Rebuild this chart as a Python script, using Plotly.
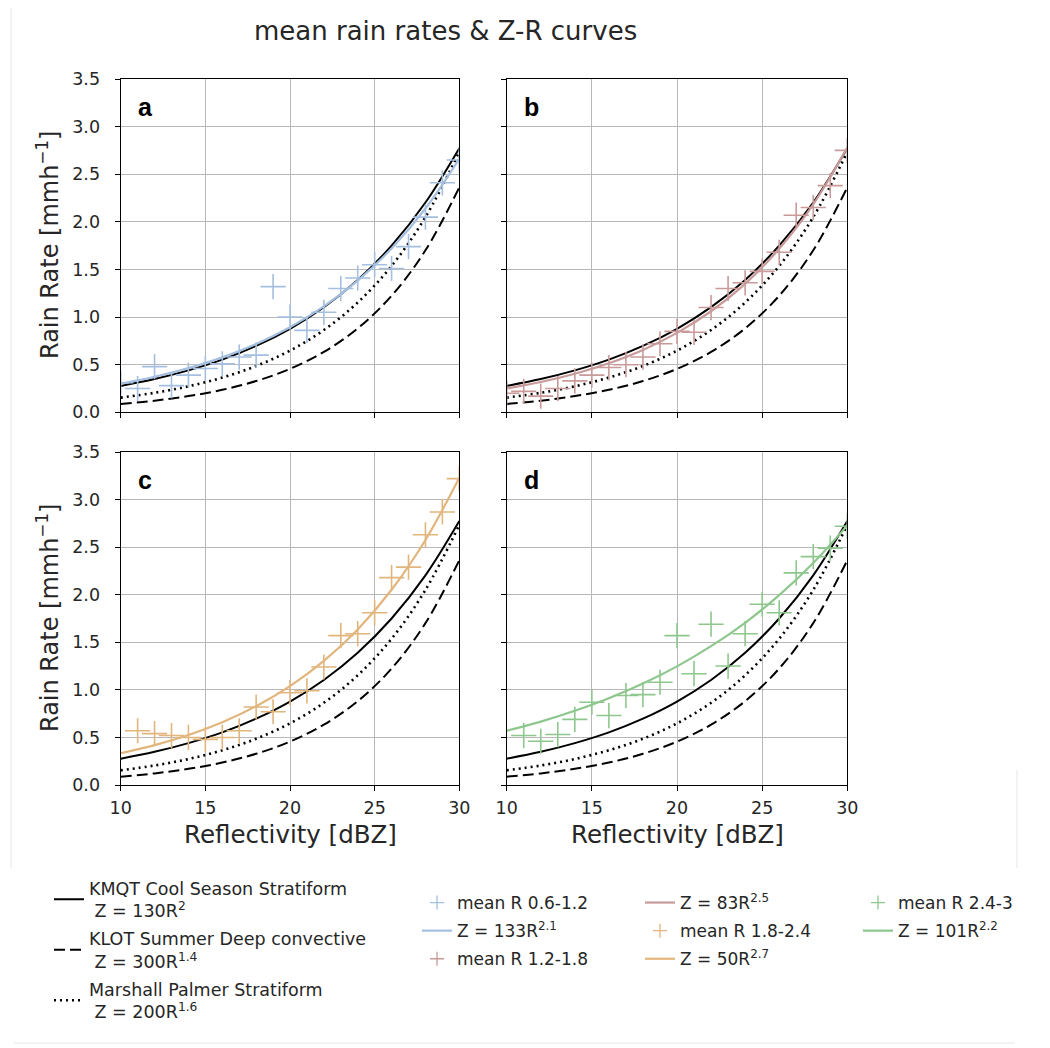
import plotly.graph_objects as go

# ---------------- data ----------------
dbz_curve = [10, 12, 14, 16, 18, 20, 22, 24, 26, 28, 30]
r_kmqt = [0.277, 0.349, 0.440, 0.553, 0.697, 0.877, 1.104, 1.390, 1.750, 2.203, 2.774]
r_klot = [0.088, 0.122, 0.170, 0.236, 0.328, 0.456, 0.634, 0.881, 1.224, 1.701, 2.362]
r_mp = [0.154, 0.205, 0.273, 0.365, 0.486, 0.648, 0.864, 1.153, 1.537, 2.050, 2.734]

fit_a = [0.300, 0.373, 0.464, 0.577, 0.718, 0.894, 1.112, 1.383, 1.720, 2.140, 2.662]
fit_b = [0.250, 0.318, 0.405, 0.515, 0.655, 0.834, 1.061, 1.349, 1.717, 2.184, 2.780]
fit_c = [0.334, 0.419, 0.526, 0.660, 0.828, 1.039, 1.304, 1.635, 2.052, 2.575, 3.230]
fit_d = [0.570, 0.666, 0.780, 0.912, 1.066, 1.247, 1.459, 1.705, 1.995, 2.333, 2.728]

dbz_ab = [10, 11, 12, 13, 14, 15, 16, 17, 18, 19, 20, 21, 22, 23, 24, 25, 26, 27, 28, 29, 30]
dbz_cd = [11, 12, 13, 14, 15, 16, 17, 18, 19, 20, 21, 22, 23, 24, 25, 26, 27, 28, 29, 30]
mean_a = [0.31, 0.25, 0.48, 0.28, 0.39, 0.46, 0.51, 0.58, 0.60, 1.32, 1.00, 0.86, 1.05, 1.30,
          1.41, 1.55, 1.51, 1.74, 2.05, 2.41, 2.65]
mean_b = [0.20, 0.22, 0.17, 0.25, 0.33, 0.39, 0.47, 0.50, 0.58, 0.72, 0.85, 0.84, 1.10, 1.30,
          1.36, 1.48, 1.68, 2.07, 2.15, 2.38, 2.75]
mean_c = [0.57, 0.54, 0.52, 0.50, 0.48, 0.50, 0.57, 0.82, 0.77, 0.97, 0.99, 1.24, 1.57, 1.59,
          1.81, 2.18, 2.29, 2.63, 2.87, 3.22]
mean_d = [0.52, 0.46, 0.53, 0.69, 0.87, 0.73, 0.94, 0.95, 1.08, 1.57, 1.17, 1.69, 1.25, 1.59,
          1.90, 1.81, 2.23, 2.40, 2.49, 2.72]

panel_letters = ["a", "b", "c", "d"]
mean_labels = ["mean R 0.6-1.2", "mean R 1.2-1.8", "mean R 1.8-2.4", "mean R 2.4-3"]
fit_labels = ["Z = 133R<sup>2.1</sup>", "Z = 83R<sup>2.5</sup>", "Z = 50R<sup>2.7</sup>",
              "Z = 101R<sup>2.2</sup>"]
ref_labels = ["KMQT Cool Season Stratiform<br> Z = 130R<sup>2</sup>",
              "KLOT Summer Deep convective<br> Z = 300R<sup>1.4</sup>",
              "Marshall Palmer Stratiform<br> Z = 200R<sup>1.6</sup>"]
colors = ["#a4bfe0", "#c99a9a", "#e2b57d", "#8ec78e"]

# legend assignment for (mean, fit) of each panel (matplotlib column-major fill)
mean_legend = ["legend2", "legend2", "legend3", "legend4"]
fit_legend = ["legend2", "legend3", "legend3", "legend4"]
mean_rank = [1, 3, 5, 7]
fit_rank = [2, 4, 6, 8]

FONT = "DejaVu Sans"
TXT = "#262626"
W, H = 1050, 1048
OFF = 8  # page body margin


def px(x):
    return (x - OFF) / W


def py(y):
    return 1 - (y - OFF) / H


fig = go.Figure()

axes = [("x", "y"), ("x2", "y2"), ("x3", "y3"), ("x4", "y4")]
means = [(dbz_ab, mean_a), (dbz_ab, mean_b), (dbz_cd, mean_c), (dbz_cd, mean_d)]
fits = [fit_a, fit_b, fit_c, fit_d]

for i, (xa, ya) in enumerate(axes):
    first = i == 0
    fig.add_trace(go.Scatter(x=dbz_curve, y=r_kmqt, mode="lines", line=dict(color="black", width=2, shape="spline"),
                             name=ref_labels[0], showlegend=first, legend="legend", legendgroup="g1", legendrank=1,
                             xaxis=xa, yaxis=ya))
    fig.add_trace(go.Scatter(x=dbz_curve, y=r_klot, mode="lines",
                             line=dict(color="black", width=2, dash="11px,5px", shape="spline"),
                             name=ref_labels[1], showlegend=first, legend="legend", legendgroup="g2", legendrank=2,
                             xaxis=xa, yaxis=ya))
    fig.add_trace(go.Scatter(x=dbz_curve, y=r_mp, mode="lines",
                             line=dict(color="black", width=2.6, dash="2px,4px", shape="spline"),
                             name=ref_labels[2], showlegend=first, legend="legend", legendgroup="g3", legendrank=3,
                             xaxis=xa, yaxis=ya))
    mx, my = means[i]
    fig.add_trace(go.Scatter(x=mx, y=my, mode="markers",
                             marker=dict(symbol="cross-thin", size=18, color=colors[i],
                                         line=dict(color=colors[i], width=1.6)),
                             name=mean_labels[i], showlegend=False, xaxis=xa, yaxis=ya))
    # legend-only entry with the small legend-sized plus of the original
    fig.add_trace(go.Scatter(x=[None], y=[None], mode="markers",
                             marker=dict(symbol="cross-thin", size=10, color=colors[i],
                                         line=dict(color=colors[i], width=1.3)),
                             name=mean_labels[i], legend=mean_legend[i], legendgroup="m%d" % i,
                             legendrank=mean_rank[i], xaxis=xa, yaxis=ya))
    fig.add_trace(go.Scatter(x=dbz_curve, y=fits[i], mode="lines",
                             line=dict(color=colors[i], width=2.2, shape="spline"),
                             name=fit_labels[i], legend=fit_legend[i], legendgroup="f%d" % i,
                             legendrank=fit_rank[i], xaxis=xa, yaxis=ya))

xdom_l = [px(120.7), px(459.3)]
xdom_r = [px(506.7), px(847.3)]
ydom_t = [py(412.3), py(79)]
ydom_b = [py(785), py(452)]

common = dict(showline=True, linecolor="black", linewidth=1.3, mirror=True, showgrid=True,
              gridcolor="#b8b8b8", gridwidth=1, ticks="outside", ticklen=5, tickwidth=1.2,
              tickcolor="black", zeroline=False, automargin=False,
              tickfont=dict(family=FONT, size=17.5, color=TXT))
xcommon = dict(common, range=[10, 30], tickvals=[10, 15, 20, 25, 30], ticklabelstandoff=2)
ycommon = dict(common, range=[0, 3.5], tickvals=[0, 0.5, 1, 1.5, 2, 2.5, 3, 3.5], tickformat=".1f",
               ticklabelstandoff=11)

leg_font = dict(family=FONT, size=17, color=TXT)
layout = dict(
    width=W, height=H, margin=dict(l=0, r=0, t=0, b=0, pad=0, autoexpand=False),
    paper_bgcolor="white", plot_bgcolor="white",
    xaxis=dict(xcommon, domain=xdom_l, anchor="y", showticklabels=False),
    yaxis=dict(ycommon, domain=ydom_t, anchor="x"),
    xaxis2=dict(xcommon, domain=xdom_r, anchor="y2", showticklabels=False),
    yaxis2=dict(ycommon, domain=ydom_t, anchor="x2", showticklabels=False),
    xaxis3=dict(xcommon, domain=xdom_l, anchor="y3"),
    yaxis3=dict(ycommon, domain=ydom_b, anchor="x3"),
    xaxis4=dict(xcommon, domain=xdom_r, anchor="y4"),
    yaxis4=dict(ycommon, domain=ydom_b, anchor="x4", showticklabels=False),
    legend=dict(x=px(49), y=py(870), xanchor="left", yanchor="top",
                font=dict(family=FONT, size=17.5, color=TXT),
                bgcolor="rgba(0,0,0,0)", traceorder="grouped", tracegroupgap=2, valign="middle"),
    legend2=dict(x=px(417), y=py(885), xanchor="left", yanchor="top", font=leg_font,
                 bgcolor="rgba(0,0,0,0)", traceorder="grouped", tracegroupgap=3),
    legend3=dict(x=px(640), y=py(885), xanchor="left", yanchor="top", font=leg_font,
                 bgcolor="rgba(0,0,0,0)", traceorder="grouped", tracegroupgap=3),
    legend4=dict(x=px(858), y=py(885), xanchor="left", yanchor="top", font=leg_font,
                 bgcolor="rgba(0,0,0,0)", traceorder="grouped", tracegroupgap=3),
)
fig.update_layout(**layout)

ann = []
ann.append(dict(text="mean rain rates & Z-R curves", x=px(445), y=py(31), xref="paper", yref="paper",
                showarrow=False, xanchor="center", yanchor="middle", font=dict(family=FONT, size=26, color=TXT)))
for yc in [245, 618]:
    ann.append(dict(text="Rain Rate [mmh<sup>−1</sup>]", x=px(48), y=py(yc), xref="paper", yref="paper",
                    showarrow=False, textangle=-90, xanchor="center", yanchor="middle",
                    font=dict(family=FONT, size=24, color=TXT)))
for xc in [290, 677]:
    ann.append(dict(text="Reflectivity [dBZ]", x=px(xc), y=py(834), xref="paper", yref="paper",
                    showarrow=False, xanchor="center", yanchor="middle",
                    font=dict(family=FONT, size=24.5, color=TXT)))
for i, (xa, ya) in enumerate(axes):
    ann.append(dict(text="<b>%s</b>" % panel_letters[i], x=0.045, y=0.915, xref=xa + " domain",
                    yref=ya + " domain", showarrow=False, xanchor="left", yanchor="middle",
                    font=dict(family="Liberation Sans", size=25, color="black")))
fig.update_layout(annotations=ann)

# faint frame lines of the original screenshot
shapes = [
    dict(type="line", xref="paper", yref="paper", x0=px(11), x1=px(11), y0=py(868), y1=1,
         line=dict(color="#e6e6e6", width=1)),
    dict(type="line", xref="paper", yref="paper", x0=px(1017), x1=px(1017), y0=py(868), y1=py(770),
         line=dict(color="#e6e6e6", width=1)),
    dict(type="line", xref="paper", yref="paper", x0=px(14), x1=px(1015), y0=py(1043), y1=py(1043),
         line=dict(color="#e6e6e6", width=1)),
]
fig.update_layout(shapes=shapes)

fig.write_html("out.html")
